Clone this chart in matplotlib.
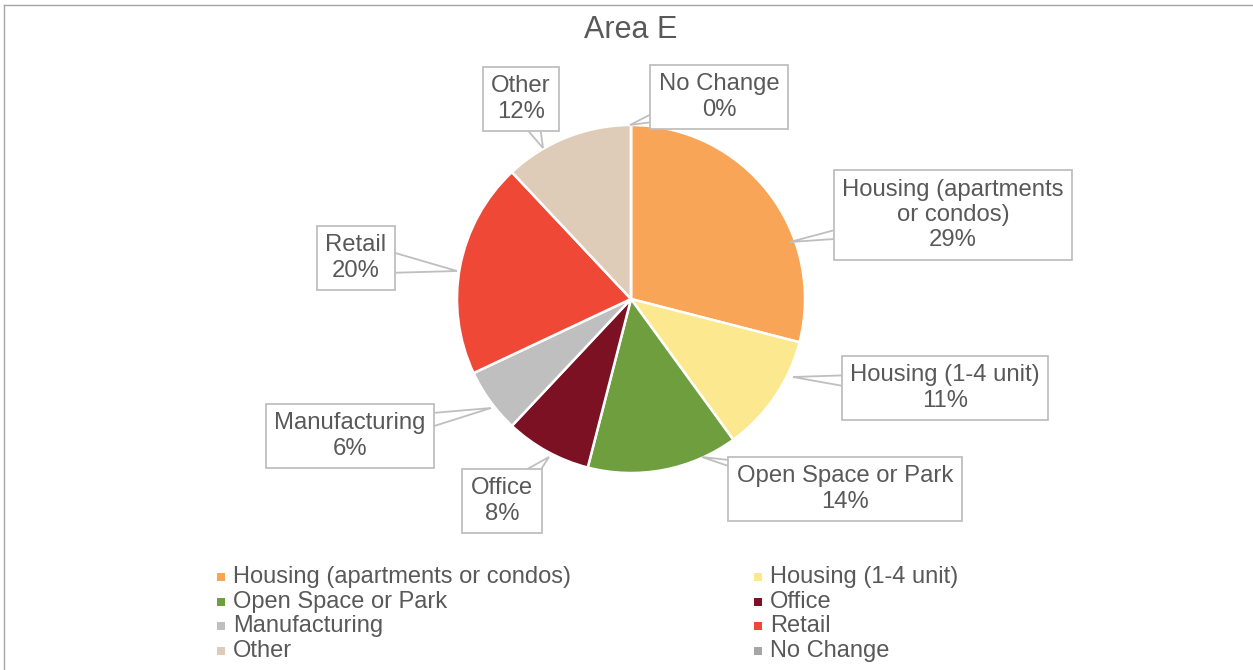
import numpy as np
import matplotlib.pyplot as plt
from matplotlib.patches import Rectangle, Polygon
from matplotlib.lines import Line2D

plt.rcParams['font.family'] = ['Liberation Sans', 'DejaVu Sans']

W, H = 1253, 670

# data
categories = ['Housing (apartments or condos)', 'Housing (1-4 unit)', 'Open Space or Park',
              'Office', 'Manufacturing', 'Retail', 'Other', 'No Change']
values = [29, 11, 14, 8, 6, 20, 12, 0]
label_text = ['Housing (apartments\nor condos)', 'Housing (1-4 unit)', 'Open Space or Park',
              'Office', 'Manufacturing', 'Retail', 'Other', 'No Change']
colors = ['#F9A557', '#FCE88F', '#6F9E3F', '#7B1122', '#BFBFBF', '#EF4836', '#DFCCB8', '#A5A5A5']

# label layout (image pixels): box centre and callout tip
box_pos = [(953, 215), (945, 388), (845, 489), (502, 501), (350, 436), (356, 258), (521, 99), (719, 97)]
anchor_pos = [(790, 242), (793, 377), (702, 457), (549, 457), (491, 408), (457, 271), (543, 148), (630, 125)]

text_col = '#595959'
line_col = '#BFBFBF'


def px(x, y):
    return (x / W, 1 - y / H)


fig = plt.figure(figsize=(W / 100, H / 100), dpi=100)

# outer chart frame
fig.add_artist(Line2D([4 / W, 4 / W], [0, 1 - 5 / H], color='#A6A6A6', lw=1.0))
fig.add_artist(Line2D([4 / W, 1], [1 - 5 / H, 1 - 5 / H], color='#A6A6A6', lw=1.0))

cx, cy, r = 631, 299, 174
ax = fig.add_axes([(cx - r) / W, (H - cy - r) / H, 2 * r / W, 2 * r / H])
ax.pie(values, colors=colors, startangle=90, counterclock=False, radius=1,
       wedgeprops=dict(edgecolor='white', linewidth=1.8))
ax.set_xlim(-1, 1)
ax.set_ylim(-1, 1)
ax.axis('off')

# callout wedges (drawn under the boxes, which are figure texts)
for bp, ap in zip(box_pos, anchor_pos):
    b = np.array(bp, dtype=float)
    a = np.array(ap, dtype=float)
    d = a - b
    n = np.array([-d[1], d[0]]) / np.hypot(*d)
    hw = 16
    pts = [px(*(b + n * hw)), px(*a), px(*(b - n * hw))]
    ax.add_patch(Polygon(pts, closed=True, transform=fig.transFigure, fc='white',
                         ec=line_col, lw=1.3, clip_on=False, zorder=5))

for name, v, bp in zip(label_text, values, box_pos):
    fig.text(*px(*bp), f'{name}\n{v}%', ha='center', va='center', fontsize=17.2,
             color=text_col, linespacing=1.2,
             bbox=dict(boxstyle='square,pad=0.36', fc='white', ec=line_col, lw=1.3))

fig.text(*px(631, 30), 'Area E', ha='center', va='center', fontsize=22, color=text_col)

# legend, filled row by row
col_x = [221, 758]
row_y = [577, 602, 626, 651]
for i, (cat, c) in enumerate(zip(categories, colors)):
    x = col_x[i % 2]
    y = row_y[i // 2]
    fig.add_artist(Rectangle(px(x - 4, y + 4), 8 / W, 8 / H, transform=fig.transFigure,
                             fc=c, ec='none'))
    fig.text(*px(x + 12, y), cat, ha='left', va='center', fontsize=17, color=text_col)

fig.savefig('out.png', dpi=100)
